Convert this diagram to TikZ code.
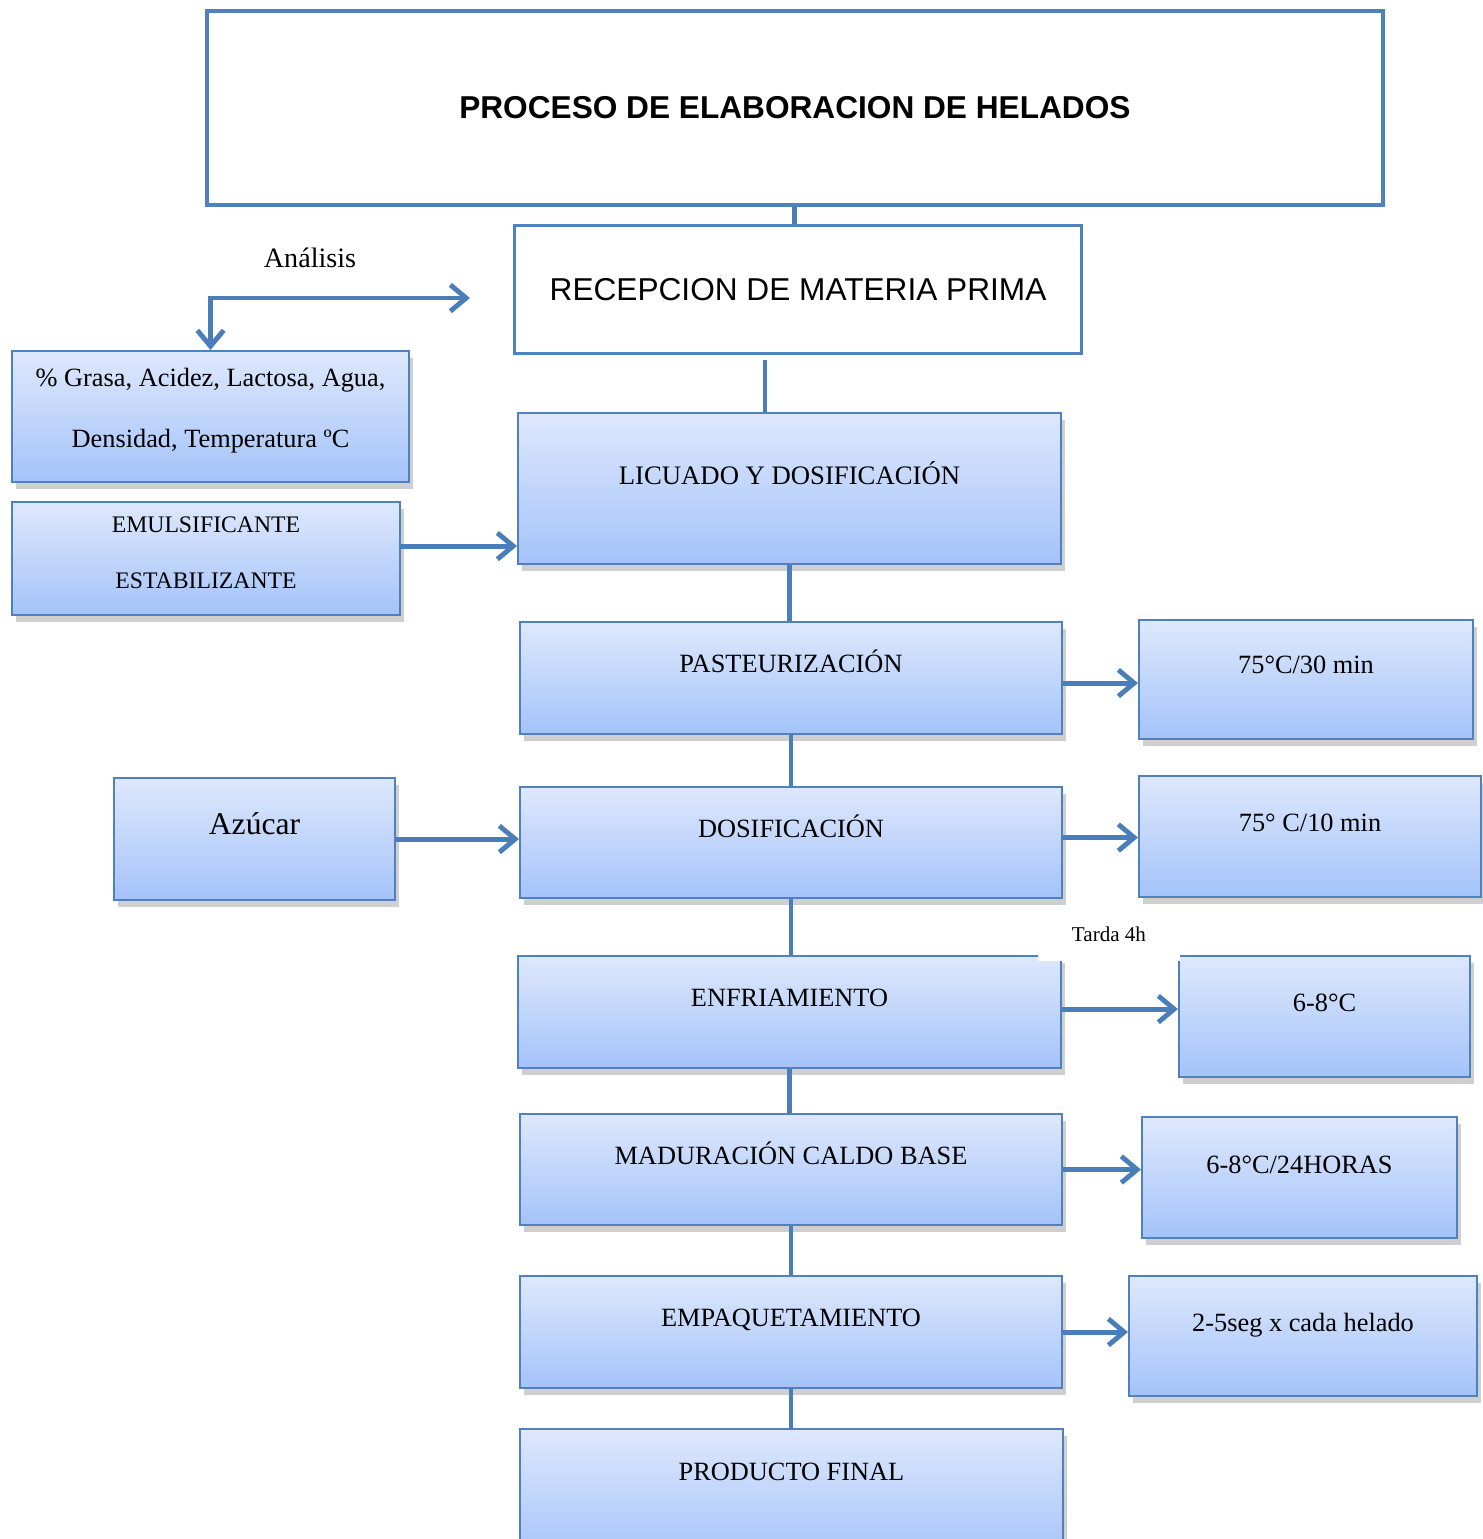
\documentclass[tikz,border=0pt]{standalone}
\usepackage{fontspec}
\setmainfont{Liberation Serif}
\newfontfamily\arialfont{Liberation Sans}
\usetikzlibrary{arrows.meta, positioning, shadows}

\definecolor{edgeblue}{HTML}{4F81BD}
\definecolor{lineblue}{HTML}{4A7EBB}
\definecolor{paleblue}{HTML}{DEE8FC}
\definecolor{deepblue}{HTML}{A4C3FA}
\definecolor{shadowgray}{HTML}{A0A0A0}

\tikzset{
    box/.style={draw=edgeblue, line width=1.2pt, top color=paleblue, bottom color=deepblue,
        drop shadow={shadow xshift=0.08cm, shadow yshift=-0.14cm, fill=shadowgray},
        anchor=north west, inner sep=0pt},
    stage/.style={box, font=\fontsize{15}{18}\selectfont, text height=1cm, text depth=1.24cm},
    param/.style={box, font=\fontsize{15}{18}\selectfont, text height=1.1cm, text depth=1.32cm},
    plainbox/.style={draw=edgeblue, fill=white, anchor=north west, inner sep=0pt},
    link/.style={draw=lineblue, line width=2.8pt},
    flow/.style={link, -{Straight Barb[length=9pt, width=15pt]}}
}

\begin{document}
\begin{tikzpicture}[x=0.02cm,y=-0.02cm]
    \useasboundingbox (0,0) rectangle (1483,1539);

    % title and reception
    \node[plainbox, line width=2.3pt, minimum width=23.52cm, minimum height=3.88cm,
        font=\arialfont\bfseries\fontsize{18}{22}\selectfont] (title) at (205,9)
        {PROCESO DE ELABORACION DE HELADOS};
    \node[plainbox, line width=1.8pt, minimum width=11.34cm, minimum height=2.56cm,
        font=\arialfont\fontsize{18}{22}\selectfont] (recep) at (513,224)
        {RECEPCION DE MATERIA PRIMA};
    \draw[link] (title.south) -- (title.south |- recep.north);

    % analysis
    \node[font=\fontsize{16}{19}\selectfont] (analisis) at (310,258) {Análisis};
    \coordinate (anatip) at (470,298);
    \node[box, minimum width=7.94cm, align=center, text height=1.92cm, text depth=0.7cm,
        font=\fontsize{15}{34.6}\selectfont] (grasa) at (11,350)
        {\% Grasa, Acidez, Lactosa, Agua,\\Densidad, Temperatura ºC};
    \draw[link, {Straight Barb[length=9pt, width=15pt]}-{Straight Barb[length=9pt, width=15pt]}]
        (grasa.north) |- (anatip);

    % additives
    \node[box, minimum width=7.76cm, align=center, text height=1.72cm, text depth=0.54cm,
        font=\fontsize{13.5}{31.7}\selectfont] (emuls) at (11,501)
        {EMULSIFICANTE\\ESTABILIZANTE};

    % main line
    \node[box, minimum width=10.86cm, font=\fontsize{15.2}{18}\selectfont,
        text height=1.42cm, text depth=1.6cm] (licuado) at (517,412) {LICUADO Y DOSIFICACIÓN};
    \node[stage, minimum width=10.84cm] (pasteur) at (519,621) {PASTEURIZACIÓN};
    \node[stage, minimum width=10.84cm, text depth=1.22cm] (dosif) at (519,786) {DOSIFICACIÓN};
    \node[stage, minimum width=10.86cm] (enfri) at (517,955) {ENFRIAMIENTO};
    \node[stage, minimum width=10.84cm, text depth=1.22cm] (madur) at (519,1113) {MADURACIÓN CALDO BASE};
    \node[stage, minimum width=10.84cm] (empaq) at (519,1275) {EMPAQUETAMIENTO};
    \node[stage, minimum width=10.86cm, text height=1.02cm, text depth=1.6cm] (final) at (519,1428) {PRODUCTO FINAL};

    % parameters
    \node[box, minimum width=5.62cm, font=\fontsize{18}{21}\selectfont,
        text height=1.12cm, text depth=1.32cm] (azucar) at (113,777) {Azúcar};
    \node[param, minimum width=6.68cm, text height=1.06cm, text depth=1.32cm] (temp1) at (1138,619) {75°C/30 min};
    \node[param, minimum width=6.84cm] (temp2) at (1138,775) {75° C/10 min};
    \node[param, minimum width=5.82cm] (temp3) at (1178,955) {6-8°C};
    \node[param, minimum width=6.3cm, text height=1.12cm, text depth=1.3cm] (temp4) at (1141,1116) {6-8°C/24HORAS};
    \node[param, minimum width=6.96cm, text depth=1.3cm] (tiempo) at (1128,1275) {2-5seg x cada helado};

    % note over the cooling box
    \node[fill=white, minimum width=2.84cm, minimum height=1.06cm, inner sep=0pt,
        font=\fontsize{12}{14}\selectfont] (tarda) at (1109,934) {Tarda 4h};

    % vertical links
    \draw[link] ([xshift=-0.49cm]licuado.north) -- ++(0,-52);
    \draw[link] (licuado.south) -- (licuado.south |- pasteur.north);
    \draw[link] (pasteur.south) -- (pasteur.south |- dosif.north);
    \draw[link] (dosif.south) -- (dosif.south |- enfri.north);
    \draw[link] (enfri.south) -- (enfri.south |- madur.north);
    \draw[link] (madur.south) -- (madur.south |- empaq.north);
    \draw[link] (empaq.south) -- (empaq.south |- final.north);

    % side arrows
    \coordinate (e1) at ([yshift=0.25cm]emuls.east);
    \draw[flow] (e1) -- (e1 -| licuado.west);
    \draw[flow] (azucar.east) -- (azucar.east -| dosif.west);
    \draw[flow] ([yshift=-0.1cm]pasteur.east) -- ([yshift=-0.1cm]pasteur.east -| temp1.west);
    \draw[flow] ([yshift=0.1cm]dosif.east) -- ([yshift=0.1cm]dosif.east -| temp2.west);
    \draw[flow] ([yshift=0.06cm]enfri.east) -- ([yshift=0.06cm]enfri.east -| temp3.west);
    \draw[flow] (madur.east) -- (madur.east -| temp4.west);
    \draw[flow] (empaq.east) -- (empaq.east -| tiempo.west);
\end{tikzpicture}
\end{document}
